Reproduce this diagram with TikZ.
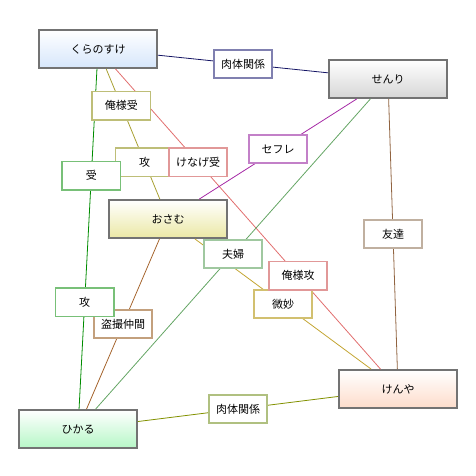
\documentclass[tikz,border=0pt]{standalone}
\usepackage{fontspec}
\newfontfamily\jpfont{Noto Sans CJK JP}

\definecolor{kuraC}{HTML}{D6E6FB}
\definecolor{senriC}{HTML}{D6D6D6}
\definecolor{osamuC}{HTML}{EBE8A5}
\definecolor{hikaruC}{HTML}{B6F7C6}
\definecolor{kenyaC}{HTML}{FDDCCB}

\begin{document}
\begin{tikzpicture}[x=1pt, y=-1pt,
    person/.style={draw=black!55, line width=1.8pt, minimum width=118pt, minimum height=38pt,
        top color=white, font=\jpfont\fontsize{11}{13}\selectfont},
    rel/.style={draw, fill=white, line width=1.6pt, minimum width=58.5pt, minimum height=28.5pt,
        inner sep=0pt, font=\jpfont\fontsize{11}{13}\selectfont},
    link/.style={line width=0.8pt}]

    \useasboundingbox (0,0) rectangle (476,476);

    % People
    \node[person, bottom color=kuraC] (kura) at (98,49) {くらのすけ};
    \node[person, bottom color=senriC] (senri) at (388,79) {せんり};
    \node[person, bottom color=osamuC] (osamu) at (168,219) {おさむ};
    \node[person, bottom color=hikaruC] (hikaru) at (78,429) {ひかる};
    \node[person, bottom color=kenyaC] (kenya) at (398,389) {けんや};

    % Draw Links
    \draw[link, color={rgb,255:red,20;green,20;blue,100}] (kura) -- (senri);
    \draw[link, color={rgb,255:red,0;green,140;blue,0}] (kura) -- (hikaru);
    \draw[link, color={rgb,255:red,168;green,160;blue,50}] (kura) -- (osamu);
    \draw[link, color={rgb,255:red,225;green,110;blue,110}] (kura) -- (kenya);
    \draw[link, color={rgb,255:red,165;green,40;blue,165}] (senri) -- (osamu);
    \draw[link, color={rgb,255:red,100;green,165;blue,100}] (senri) -- (hikaru);
    \draw[link, color={rgb,255:red,145;green,100;blue,65}] (senri) -- (kenya);
    \draw[link, color={rgb,255:red,165;green,100;blue,45}] (osamu) -- (hikaru);
    \draw[link, color={rgb,255:red,195;green,165;blue,50}] (osamu) -- (kenya);
    \draw[link, color={rgb,255:red,130;green,145;blue,0}] (hikaru) -- (kenya);

    % Label Links
    \path (kura.center) -- node[rel, draw={rgb,255:red,128;green,128;blue,176}] (nikutai1) {肉体関係} (senri.center);
    \path (osamu.center) -- node[rel, draw={rgb,255:red,195;green,160;blue,125}] (tousatsu) {盗撮仲間} (hikaru.center);
    \path (osamu.center) -- node[rel, draw={rgb,255:red,210;green,192;blue,112}] (bimyou) {微妙} (kenya.center);
    \path (kura.center) -- node[rel, pos=1/3, draw={rgb,255:red,190;green,190;blue,120}] (oresamauke) {俺様受}
        node[rel, pos=2/3, draw={rgb,255:red,190;green,190;blue,120}] (seme1) {攻} (osamu.center);
    \path (kura.center) -- node[rel, pos=1/3, draw={rgb,255:red,120;green,192;blue,120}] (uke) {受}
        node[rel, pos=2/3, draw={rgb,255:red,120;green,192;blue,120}] (seme2) {攻} (hikaru.center);
    \path (kura.center) -- node[rel, pos=1/3, draw={rgb,255:red,225;green,152;blue,152}] (kenageuke) {けなげ受}
        node[rel, pos=2/3, draw={rgb,255:red,225;green,152;blue,152}] (oresamaseme) {俺様攻} (kenya.center);
    \path (senri.center) -- node[rel, draw={rgb,255:red,195;green,128;blue,200}] (sefure) {セフレ} (osamu.center);
    \path (senri.center) -- node[rel, draw={rgb,255:red,160;green,200;blue,160}] (fuufu) {夫婦} (hikaru.center);
    \path (senri.center) -- node[rel, draw={rgb,255:red,192;green,176;blue,160}] (tomodachi) {友達} (kenya.center);
    \path (hikaru.center) -- node[rel, draw={rgb,255:red,176;green,192;blue,128}] (nikutai2) {肉体関係} (kenya.center);
\end{tikzpicture}
\end{document}
